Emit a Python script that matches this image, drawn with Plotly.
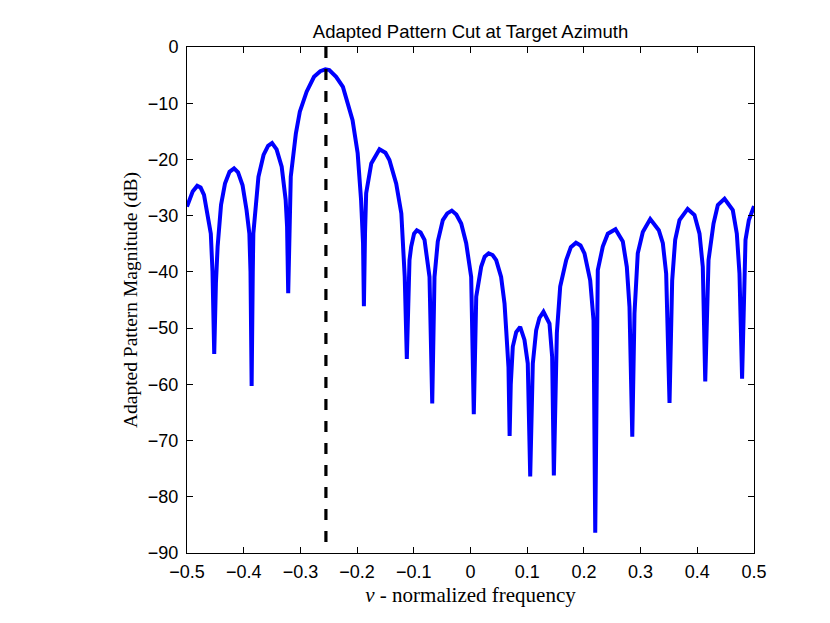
import plotly.graph_objects as go

# Normalized frequency (nu) and adapted pattern magnitude (dB)
nu = [-0.500, -0.490, -0.482, -0.476, -0.470, -0.466, -0.458, -0.455, -0.452, -0.449,
      -0.446, -0.440, -0.433, -0.425, -0.417, -0.410, -0.402, -0.395, -0.390, -0.388,
      -0.386, -0.384, -0.383, -0.374, -0.365, -0.357, -0.350, -0.342, -0.333, -0.326,
      -0.3235, -0.3215, -0.319, -0.317, -0.308, -0.301, -0.289, -0.276, -0.265, -0.256,
      -0.249, -0.237, -0.225, -0.208, -0.199, -0.193, -0.1895, -0.188, -0.186, -0.184,
      -0.175, -0.1605, -0.150, -0.143, -0.131, -0.122, -0.116, -0.1123, -0.1076, -0.1046,
      -0.0995, -0.0947, -0.088, -0.0811, -0.0723, -0.0675, -0.0635, -0.0577, -0.0488, -0.041,
      -0.033, -0.025, -0.0164, -0.0076, 0.0012, 0.0058, 0.0101, 0.0188, 0.025, 0.032,
      0.039, 0.0453, 0.054, 0.060, 0.063, 0.067, 0.069, 0.071, 0.0746, 0.0806,
      0.0876, 0.0952, 0.101, 0.1053, 0.1099, 0.1158, 0.1215, 0.1287, 0.1393, 0.144,
      0.147, 0.1523, 0.1582, 0.1688, 0.177, 0.186, 0.194, 0.201, 0.2111, 0.217,
      0.220, 0.2245, 0.2333, 0.2422, 0.2557, 0.2686, 0.2757, 0.2804, 0.2853, 0.2892,
      0.295, 0.3039, 0.317, 0.3321, 0.3392, 0.3451, 0.351, 0.3557, 0.361, 0.3686,
      0.383, 0.395, 0.4039, 0.4097, 0.414, 0.4198, 0.4286, 0.4362, 0.448, 0.4626,
      0.4697, 0.4744, 0.479, 0.485, 0.4909, 0.500]

mag_db = [-28.4, -25.7, -24.7, -25.0, -26.3, -28.4, -33.2, -40.0, -54.6, -42.0,
          -35.5, -28.1, -24.3, -22.2, -21.6, -22.3, -24.6, -29.0, -33.2, -40.0,
          -60.3, -40.0, -33.2, -23.1, -19.2, -17.6, -17.1, -18.2, -21.3, -27.2,
          -32.0, -43.8, -30.0, -23.1, -15.4, -11.5, -7.95, -5.3, -4.3, -3.97,
          -4.1, -5.3, -7.1, -13.0, -18.9, -27.2, -35.0, -46.1, -33.0, -26.0,
          -20.7, -18.2, -18.8, -20.1, -24.3, -29.6, -40.9, -55.5, -37.9, -35.5,
          -33.2, -32.6, -33.0, -34.3, -40.9, -63.4, -40.9, -34.6, -30.8, -29.6,
          -29.1, -29.8, -31.4, -34.9, -40.9, -65.3, -44.4, -39.1, -37.3, -36.7,
          -37.0, -37.9, -40.9, -45.6, -50.4, -57.0, -69.2, -60.0, -53.3, -50.7,
          -49.8, -52.1, -56.3, -76.4, -56.3, -50.4, -48.2, -47.1, -49.2, -55.1,
          -76.2, -50.9, -42.6, -37.9, -35.6, -34.8, -35.3, -36.7, -41.5, -48.6,
          -86.4, -39.7, -35.5, -33.2, -32.4, -34.6, -39.1, -46.2, -69.3, -47.4,
          -36.7, -32.9, -30.6, -32.6, -34.9, -40.3, -63.3, -41.5, -34.3, -30.8,
          -28.8, -29.9, -33.2, -39.1, -59.5, -37.9, -31.4, -28.1, -27.0, -29.0,
          -33.2, -40.3, -59.0, -34.3, -30.8, -28.3]

target_nu = [-0.255, -0.255]
target_db = [0, -90]

x_ticks = [-0.5, -0.4, -0.3, -0.2, -0.1, 0, 0.1, 0.2, 0.3, 0.4, 0.5]
x_ticklabels = ["\u22120.5", "\u22120.4", "\u22120.3", "\u22120.2", "\u22120.1", "0",
                "0.1", "0.2", "0.3", "0.4", "0.5"]
y_ticks = [0, -10, -20, -30, -40, -50, -60, -70, -80, -90]
y_ticklabels = ["0", "\u221210", "\u221220", "\u221230", "\u221240", "\u221250",
                "\u221260", "\u221270", "\u221280", "\u221290"]

fig = go.Figure()
fig.add_trace(go.Scatter(x=nu, y=mag_db, mode="lines",
                         line=dict(color="#0000FF", width=4),
                         showlegend=False, hoverinfo="skip"))
fig.add_trace(go.Scatter(x=target_nu, y=target_db, mode="lines",
                         line=dict(color="black", width=3.2, dash="11px,11px"),
                         showlegend=False, hoverinfo="skip"))

tick_font = dict(family="Liberation Sans, Arial, sans-serif", size=18, color="black")

fig.update_layout(
    width=830, height=623,
    paper_bgcolor="white", plot_bgcolor="white",
    margin=dict(l=179, r=84, t=39, b=78),
    title=dict(text="Adapted Pattern Cut at Target Azimuth",
               font=dict(family="Liberation Sans, Arial, sans-serif", size=18.5, color="black"),
               x=0.5, xanchor="center", xref="paper", y=1, yref="paper",
               yanchor="bottom", pad=dict(b=9)),
)
fig.update_xaxes(range=[-0.5, 0.5], tickvals=x_ticks, ticktext=x_ticklabels,
                 ticks="inside", ticklen=6, tickwidth=1, tickcolor="black",
                 showline=True, linecolor="black", linewidth=1, mirror="ticks",
                 showgrid=False, zeroline=False, tickfont=tick_font,
                 ticklabelstandoff=2,
                 title=dict(text="<i>\u03bd</i> - normalized frequency",
                            font=dict(family="Liberation Serif, serif", size=21, color="black"),
                            standoff=6))
fig.update_yaxes(range=[-90, 0], tickvals=y_ticks, ticktext=y_ticklabels,
                 ticks="inside", ticklen=6, tickwidth=1, tickcolor="black",
                 showline=True, linecolor="black", linewidth=1, mirror="ticks",
                 showgrid=False, zeroline=False, tickfont=tick_font,
                 ticklabelstandoff=4,
                 title=dict(text="Adapted Pattern Magnitude (dB)",
                            font=dict(family="Liberation Serif, serif", size=19.5, color="black"),
                            standoff=5))

fig.write_html("out.html")
